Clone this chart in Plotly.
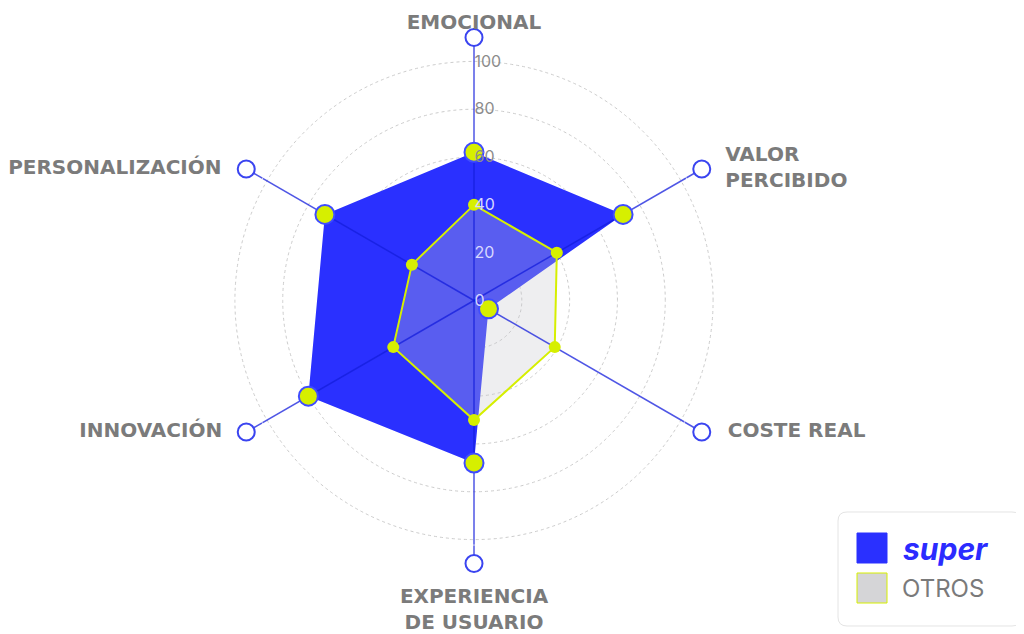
import plotly.graph_objects as go

categories = ["EMOCIONAL", "VALOR PERCIBIDO", "COSTE REAL", "EXPERIENCIA DE USUARIO", "INNOVACIÓN", "PERSONALIZACIÓN"]
category_labels = ["EMOCIONAL", "VALOR<br>PERCIBIDO", "COSTE REAL", "EXPERIENCIA<br>DE USUARIO", "INNOVACIÓN", "PERSONALIZACIÓN"]
series_names = ["super", "OTROS"]
super_values = [62, 72, 7, 68, 80, 72]
otros_values = [40, 40, 39, 50, 39, 30]
radial_ticks = [0, 20, 40, 60, 80, 100]
axis_max = 110

BLUE = "#2a30ff"
YELLOW = "#d6ef00"
GREY_FILL = "rgba(200,200,205,0.3)"

# figure is placed 8px into the page by the default body margin
W, H = 1016, 626
cx, cy, R = 466, 292.5, 263

fig = go.Figure()

fig.add_trace(go.Scatterpolar(
    r=super_values + super_values[:1], theta=categories + categories[:1],
    mode="lines", fill="toself", fillcolor=BLUE,
    line=dict(color=BLUE, width=0), name=series_names[0], hoverinfo="skip"))
fig.add_trace(go.Scatterpolar(
    r=otros_values + otros_values[:1], theta=categories + categories[:1],
    mode="lines", fill="toself", fillcolor=GREY_FILL,
    line=dict(color=YELLOW, width=2), name=series_names[1], hoverinfo="skip"))

# spokes
spoke_r, spoke_t = [], []
for c in categories:
    spoke_r += [0, axis_max, None]
    spoke_t += [c, c, c]
fig.add_trace(go.Scatterpolar(
    r=spoke_r, theta=spoke_t, mode="lines",
    line=dict(color="rgba(20,30,220,0.75)", width=1.5),
    showlegend=False, hoverinfo="skip", cliponaxis=False))
# spoke end circles
fig.add_trace(go.Scatterpolar(
    r=[axis_max] * len(categories), theta=categories, mode="markers",
    marker=dict(size=17, color="white", line=dict(color="#3a44f0", width=2)),
    showlegend=False, hoverinfo="skip", cliponaxis=False))
# category labels placed off the spoke ends
fig.add_trace(go.Scatterpolar(
    r=[axis_max] * len(categories), theta=categories, mode="markers+text",
    text=category_labels,
    textposition=["top center", "middle right", "middle right", "bottom center", "middle left", "middle left"],
    marker=dict(size=[4, 36, 40, 37, 37, 38], color="rgba(0,0,0,0)"),
    textfont=dict(family="DejaVu Sans", size=20, color="#7b7b7b", weight="bold"),
    showlegend=False, hoverinfo="skip", cliponaxis=False))
# value markers
fig.add_trace(go.Scatterpolar(
    r=otros_values, theta=categories, mode="markers",
    marker=dict(size=12, color=YELLOW),
    showlegend=False, hoverinfo="skip", cliponaxis=False))
fig.add_trace(go.Scatterpolar(
    r=super_values, theta=categories, mode="markers",
    marker=dict(size=19, color=YELLOW, line=dict(color="#3f4cff", width=2)),
    showlegend=False, hoverinfo="skip", cliponaxis=False))

tick_text = []
for v in radial_ticks:
    col = "#d8d8ff" if v + 10 < super_values[0] else "#8c8c8c"
    tick_text.append(f'<span style="color:{col}">{v}</span>')


def px(x, y):
    return x / W, 1 - y / H


# custom legend
lx0, ly0, lx1, ly1, rad = 830, 504, 1013, 618, 9
def pp(x, y):
    a, b = px(x, y)
    return f"{a:.5f},{b:.5f}"
legend_path = (f"M {pp(lx0 + rad, ly0)} L {pp(lx1 - rad, ly0)} Q {pp(lx1, ly0)} {pp(lx1, ly0 + rad)} "
               f"L {pp(lx1, ly1 - rad)} Q {pp(lx1, ly1)} {pp(lx1 - rad, ly1)} "
               f"L {pp(lx0 + rad, ly1)} Q {pp(lx0, ly1)} {pp(lx0, ly1 - rad)} "
               f"L {pp(lx0, ly0 + rad)} Q {pp(lx0, ly0)} {pp(lx0 + rad, ly0)} Z")
shapes = [dict(type="path", xref="paper", yref="paper", path=legend_path,
               line=dict(color="#e4e4e4", width=1), fillcolor="white", layer="above")]
sx0, sx1 = 849, 879
for (y0, y1), fc, lc in [((525, 555), BLUE, BLUE), ((565, 595), "#d5d5d7", YELLOW)]:
    a0, b0 = px(sx0, y0)
    a1, b1 = px(sx1, y1)
    shapes.append(dict(type="rect", xref="paper", yref="paper", x0=a0, x1=a1, y0=b1, y1=b0,
                       fillcolor=fc, line=dict(color=lc, width=1), layer="above"))

annotations = [
    dict(xref="paper", yref="paper", x=px(893, 0)[0], y=px(0, 541)[1], xanchor="left", yanchor="middle",
         text=f"<b><i>{series_names[0]}</i></b>", showarrow=False,
         font=dict(family="Inter", size=30, color="#2b2bff", weight=900)),
    dict(xref="paper", yref="paper", x=px(892, 0)[0], y=px(0, 580)[1], xanchor="left", yanchor="middle",
         text=series_names[1], showarrow=False,
         font=dict(family="Inter", size=24, color="#7a7a7a")),
]

fig.update_layout(
    width=W, height=H,
    margin=dict(l=0, r=0, t=0, b=0),
    paper_bgcolor="white", plot_bgcolor="white",
    showlegend=False,
    shapes=shapes, annotations=annotations,
    polar=dict(
        domain=dict(x=[(cx - R) / W, (cx + R) / W], y=[(H - cy - R) / H, (H - cy + R) / H]),
        bgcolor="rgba(0,0,0,0)",
        angularaxis=dict(
            rotation=90, direction="clockwise",
            showgrid=False, showline=False, showticklabels=False, ticks="",
        ),
        radialaxis=dict(
            range=[0, axis_max], angle=90, tickangle=90,
            tickvals=radial_ticks, ticktext=tick_text,
            showline=False, ticks="",
            gridcolor="#cccccc", gridwidth=1, griddash="dot",
            tickfont=dict(family="Inter", size=16, color="#8c8c8c"),
        ),
    ),
)

fig.write_html("out.html")
